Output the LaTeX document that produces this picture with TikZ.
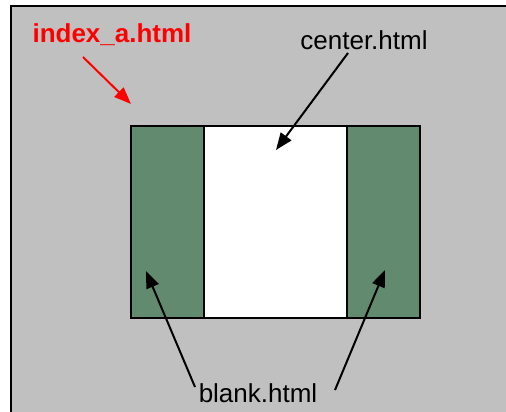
\documentclass[tikz,border=0pt]{standalone}
\usepackage{fontspec}
\setmainfont{Liberation Sans}
\usetikzlibrary{arrows.meta}
\definecolor{framegray}{HTML}{C0C0C0}
\definecolor{panegreen}{HTML}{628A6E}

\begin{document}
\begin{tikzpicture}[x=1pt,y=-1pt,>={Triangle[length=17pt,width=13pt]}]
	\tikzstyle{pane} = [draw=black, line width=2pt, inner sep=0, outer sep=0, anchor=north west, minimum height=192pt]
	\tikzstyle{blank} = [pane, fill=panegreen, minimum width=73pt]
	\tikzstyle{label} = [inner sep=0, anchor=base, font=\fontsize{26}{30}\selectfont]
	\tikzstyle{pointer} = [->, black, line width=2pt]
	\useasboundingbox (0,0) rectangle (506,412);
	\fill [framegray] (11,6) rectangle (506,412);
	\draw [line width=2pt] (11,412) -- (11,6) -- (506,6);
	
	% frameset: two blank frames round the center one
	\node [pane, fill=white, minimum width=143pt] (center) at (204,126) {};
	\node [blank] (left) at (131,126) {};
	\node [blank] (right) at (347,126) {};
	
	\node [label, text=red, font=\fontsize{26}{30}\selectfont\bfseries] (idx) at (112,43) {index\_a.html};
	\node [label] (ctr) at (364,50) {center.html};
	\node [label] (blk) at (258,402) {blank.html};
	
	\coordinate (idxtail) at (83,57);
	\coordinate (idxtip) at (131,104);
	\coordinate (ctrtail) at (348,53);
	\coordinate (ctrtip) at (276,150);
	\coordinate (blktailL) at (195,387);
	\coordinate (blktipL) at (146,271);
	\coordinate (blktailR) at (335,390);
	\coordinate (blktipR) at (385,270);
	
	\draw [pointer, red] (idxtail) -- (idxtip);
	\draw [pointer] (ctrtail) -- (ctrtip);
	\draw [pointer] (blktailL) -- (blktipL);
	\draw [pointer] (blktailR) -- (blktipR);
\end{tikzpicture}
\end{document}
